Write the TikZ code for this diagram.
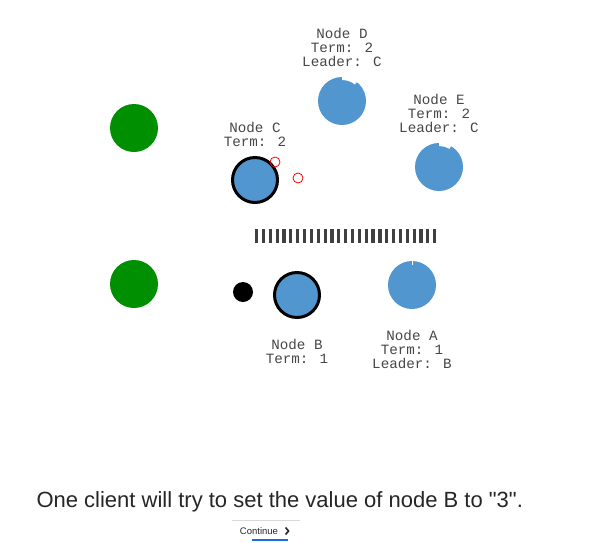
\documentclass[tikz,border=0pt]{standalone}
\usepackage{fontspec}
\setmainfont{Liberation Sans}[Ligatures=TeXOff]
\newfontfamily\termfont{Liberation Mono}
\definecolor{nodeblue}{RGB}{82,150,208}
\definecolor{peergreen}{RGB}{0,143,0}
\definecolor{linkblue}{RGB}{20,110,230}
\usetikzlibrary{positioning}

\begin{document}
\begin{tikzpicture}[x=1pt, y=-1pt,
    server/.style={circle, fill=nodeblue, minimum size=48pt, inner sep=0pt},
    active/.style={server, draw=black, line width=3pt, minimum size=45pt},
    client/.style={circle, fill=peergreen, minimum size=48pt, inner sep=0pt},
    info/.style={font=\termfont\fontsize{14.2}{13.8}\selectfont, align=center, text=black!72, inner sep=0pt},
    msg/.style={circle, draw=red, line width=0.8pt, minimum size=10pt, inner sep=0pt},
    notch/.style={fill=white}]
                % canvas
                \fill[white] (0,0) rectangle (594,542);

                % clients
                \node[client] (cl1) at (134,128) {};
                \node[client] (cl2) at (134,284) {};

                % servers
                \node[server] (d) at (342,101) {};
                \node[server] (e) at (439,167) {};
                \node[active] (c) at (255,180) {};
                \node[active] (b) at (297,295) {};
                \node[server] (a) at (412,285) {};

                % election timers
                \begin{scope}[shift={(d)}]
                    \fill[notch] (270:21) arc[start angle=270, end angle=308, radius=21]
                        -- (308:26) arc[start angle=308, end angle=270, radius=26] -- cycle;
                \end{scope}
                \begin{scope}[shift={(e)}]
                    \fill[notch] (270:21) arc[start angle=270, end angle=300, radius=21]
                        -- (300:26) arc[start angle=300, end angle=270, radius=26] -- cycle;
                \end{scope}
                \draw[white, line width=0.7pt] (a.north) -- ++(0,4);

                % labels
                \node[info, above=10pt of d] (dlab) {Node D\\Term: 2\\Leader: C};
                \node[info, above=10pt of e] (elab) {Node E\\Term: 2\\Leader: C};
                \node[info, above=9pt of c] (clab) {Node C\\Term: 2};
                \node[info, below=20pt of b] (blab) {Node B\\Term: 1};
                \node[info, below=21pt of a] (alab) {Node A\\Term: 1\\Leader: B};

                % messages in flight
                \node[msg] (m1) at (275,162) {};
                \node[msg] (m2) at (298,178) {};
                \node[circle, fill=black, minimum size=20pt, inner sep=0pt] (req) at (243,292) {};

                % partition
                \foreach \i in {0,...,26}
                    \fill[black!75] (255+\i*6.85,229) rectangle ++(3.2,14);

                % caption
                \node[anchor=west, font=\fontsize{22}{24}\selectfont, text=black!85] (cap) at (33,502)
                    {One client will try to set the value of node B to "3".};

                % continue button
                \draw[black!15] (232,520) -- (300,520);
                \node[font=\fontsize{9.5}{11}\selectfont, text=black!85] (cont) at (259,531) {Continue};
                \draw[line width=1.6pt, black!85] (cont.east) ++(4,-3.5) -- ++(3,3.5) -- ++(-3,3.5);
                \draw[linkblue, line width=2pt] (252,540) -- (288,540);
            \end{tikzpicture}
\end{document}
